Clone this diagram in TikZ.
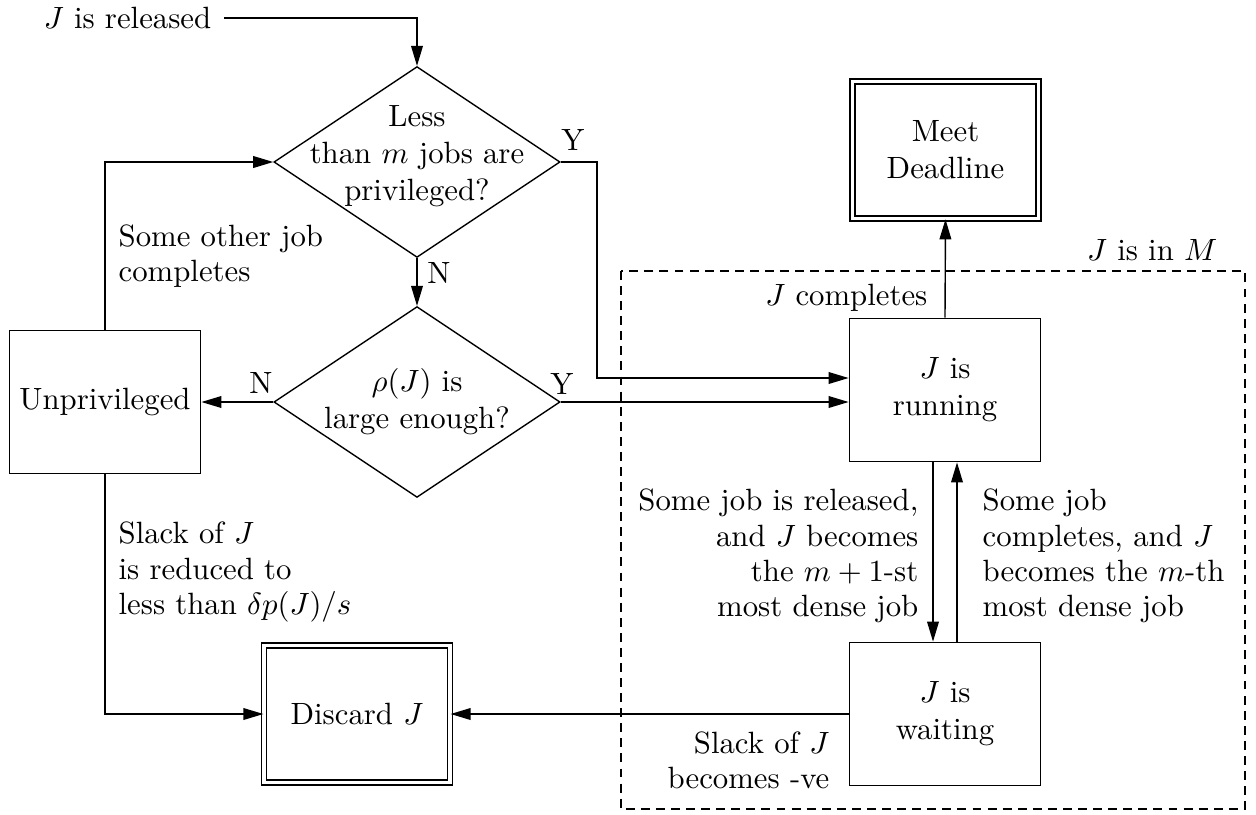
\documentclass[tikz,border=0pt]{standalone}
\usetikzlibrary{arrows.meta,shapes.geometric,calc}
\tikzset{
  x=0.325pt, y=-0.325pt,
  every path/.style={line width=0.45pt},
  arr/.style={-{Triangle[length=6.5pt,width=3.8pt]}},
  boxtxt/.style={font=\fontsize{10}{12}\selectfont},
  box/.style={draw, rectangle, minimum width=62.2pt, minimum height=46.6pt, inner sep=0pt, align=center, boxtxt},
  dbox/.style={draw, double, double distance=1.15pt, rectangle, minimum width=60.4pt, minimum height=44.6pt, inner sep=0pt, align=center, boxtxt},
  dia/.style={draw, diamond, minimum width=93pt, minimum height=62pt, inner sep=0pt},
  diatxt/.style={inner sep=0pt, align=center, boxtxt},
  lbl/.style={inner sep=0pt, font=\fontsize{10}{11.5}\selectfont},
  region/.style={draw, dash pattern=on 2.9pt off 2pt}
}
\begin{document}
\begin{tikzpicture}
\useasboundingbox (0,0) rectangle (1256,814);

% decision nodes
\node[dia] (d1) at (417,162) {};
\node[diatxt] (d1t) at ($(d1.center)+(0,-6)$) {Less\\than $m$ jobs are\\privileged?};
\node[dia] (d2) at (417,402) {};
\node[diatxt] (d2t) at (d2.center) {$\rho(J)$ is\\large enough?};

% boxes
\node[box] (unp) at (105,402) {Unprivileged};
\node[dbox] (disc) at (357,714) {Discard $J$};
\node[dbox] (meet) at (945.5,150) {Meet\\Deadline};
\node[box] (run) at (945,390) {$J$ is\\running};
\node[box] (wait) at (945,714) {$J$ is\\waiting};

% region
\draw[region] (621,271) rectangle (1245,809);
\node[lbl, anchor=east] (inM) at (1218,250) {$J$ is in $M$};

% start
\node[lbl, inner xsep=4pt, inner ysep=0pt] (rel) at (127.5,18) {$J$ is released};
\draw[arr] (rel.east) -| (d1.north);

% d1 -> d2 (N)
\draw[arr] (d1.south) -- (d2.north);
\node[lbl] (n1) at (439,273) {N};

% d1 -> run (Y)
\coordinate (ybend) at (597,162);
\draw[arr] (d1.east) -- (ybend) |- ($(run.west)+(0,-12)$);
\node[lbl] (y1) at (573,140) {Y};

% d2 -> run (Y)
\draw[arr] (d2.east) -- (d2.east -| run.west);
\node[lbl] (y2) at (562,384) {Y};

% d2 -> unprivileged (N)
\draw[arr] (d2.west) -- (unp.east);
\node[lbl] (n2) at (261,383) {N};

% unprivileged -> d1
\draw[arr] (unp.north) |- (d1.west);
\node[lbl, anchor=west, align=left] (oth) at (118,256) {Some other job\\completes};

% unprivileged -> discard
\draw[arr] (unp.south) |- (disc.west);
\node[lbl, anchor=west, align=left] (slk1) at (118,572) {Slack of $J$\\is reduced to\\less than $\delta p(J)/s$};

% waiting -> discard
\draw[arr] (wait.west) -- (disc.east);
\node[lbl, anchor=east, align=right] (slk2) at (830,760) {Slack of $J$\\becomes -ve};

% running -> meet
\draw[arr] (run.north) -- (meet.south);
\node[lbl, anchor=east] (cmp) at (928,298) {$J$ completes};

% running <-> waiting
\draw[arr] ($(run.south)+(-12,0)$) -- ($(wait.north)+(-12,0)$);
\draw[arr] ($(wait.north)+(12,0)$) -- ($(run.south)+(12,0)$);
\node[lbl, anchor=east, align=right] (rw) at (919,556) {Some job is released,\\and $J$ becomes\\the $m+1$-st\\most dense job};
\node[lbl, anchor=west, align=left] (wr) at (982,556) {Some job\\completes, and $J$\\becomes the $m$-th\\most dense job};
\end{tikzpicture}
\end{document}
